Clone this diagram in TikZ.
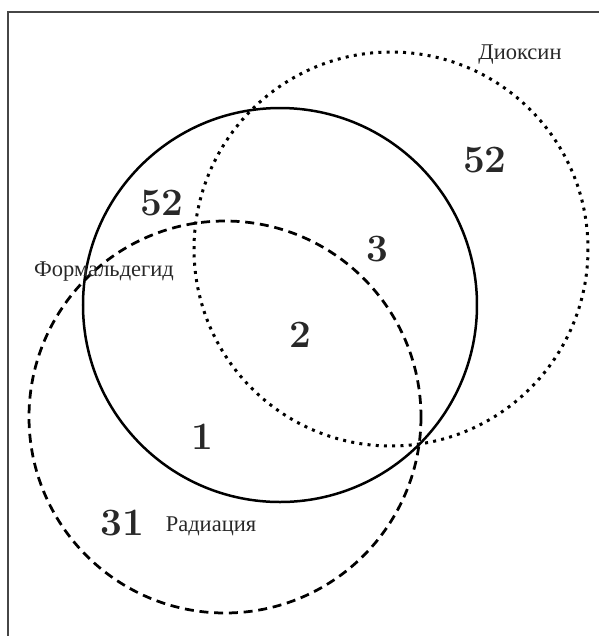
\documentclass[tikz,border=0pt]{standalone}
\usepackage{fontspec}
\usepackage{xcolor}
\usepackage{tikz}
\newfontfamily\cyrfont{Liberation Serif}
\definecolor{textcolor}{RGB}{40,40,40}
\definecolor{framecolor}{RGB}{70,70,70}

\begin{document}
\begin{tikzpicture}[
    x=0.4pt, y=-0.4pt,
    setname/.style={font=\cyrfont\fontsize{9}{11}\selectfont, text=textcolor, inner sep=0pt},
    count/.style={font=\bfseries\fontsize{15.5}{18}\selectfont, text=textcolor, inner sep=0pt},
    formset/.style={line width=1pt},
    radset/.style={line width=1.1pt, dash pattern=on 3.6pt off 2.3pt},
    dioxset/.style={line width=1.2pt, dash pattern=on 1.2pt off 2.1pt}
]
\useasboundingbox (0,0) rectangle (599,636);

% frame
\draw[framecolor, line width=0.45pt] (8,636) -- (8,12) -- (599,12);

% sets
\draw[formset] (280,305) circle[radius=197];
\draw[radset] (225,417) circle[radius=196];
\draw[dioxset] (391,249) circle[radius=197];

% set names
\node[setname] (dioxin) at (520,55) {Диоксин};
\node[setname] (formal) at (104,272) {Формальдегид};
\node[setname] (radiation) at (211,526) {Радиация};

% counts
\node[count] (n_diox) at (485,160) {52};
\node[count] (n_form) at (162,203) {52};
\node[count] (n_fd) at (377,249) {3};
\node[count] (n_all) at (300,335) {2};
\node[count] (n_fr) at (202,437) {1};
\node[count] (n_rad) at (122,523) {31};

\end{tikzpicture}
\end{document}
